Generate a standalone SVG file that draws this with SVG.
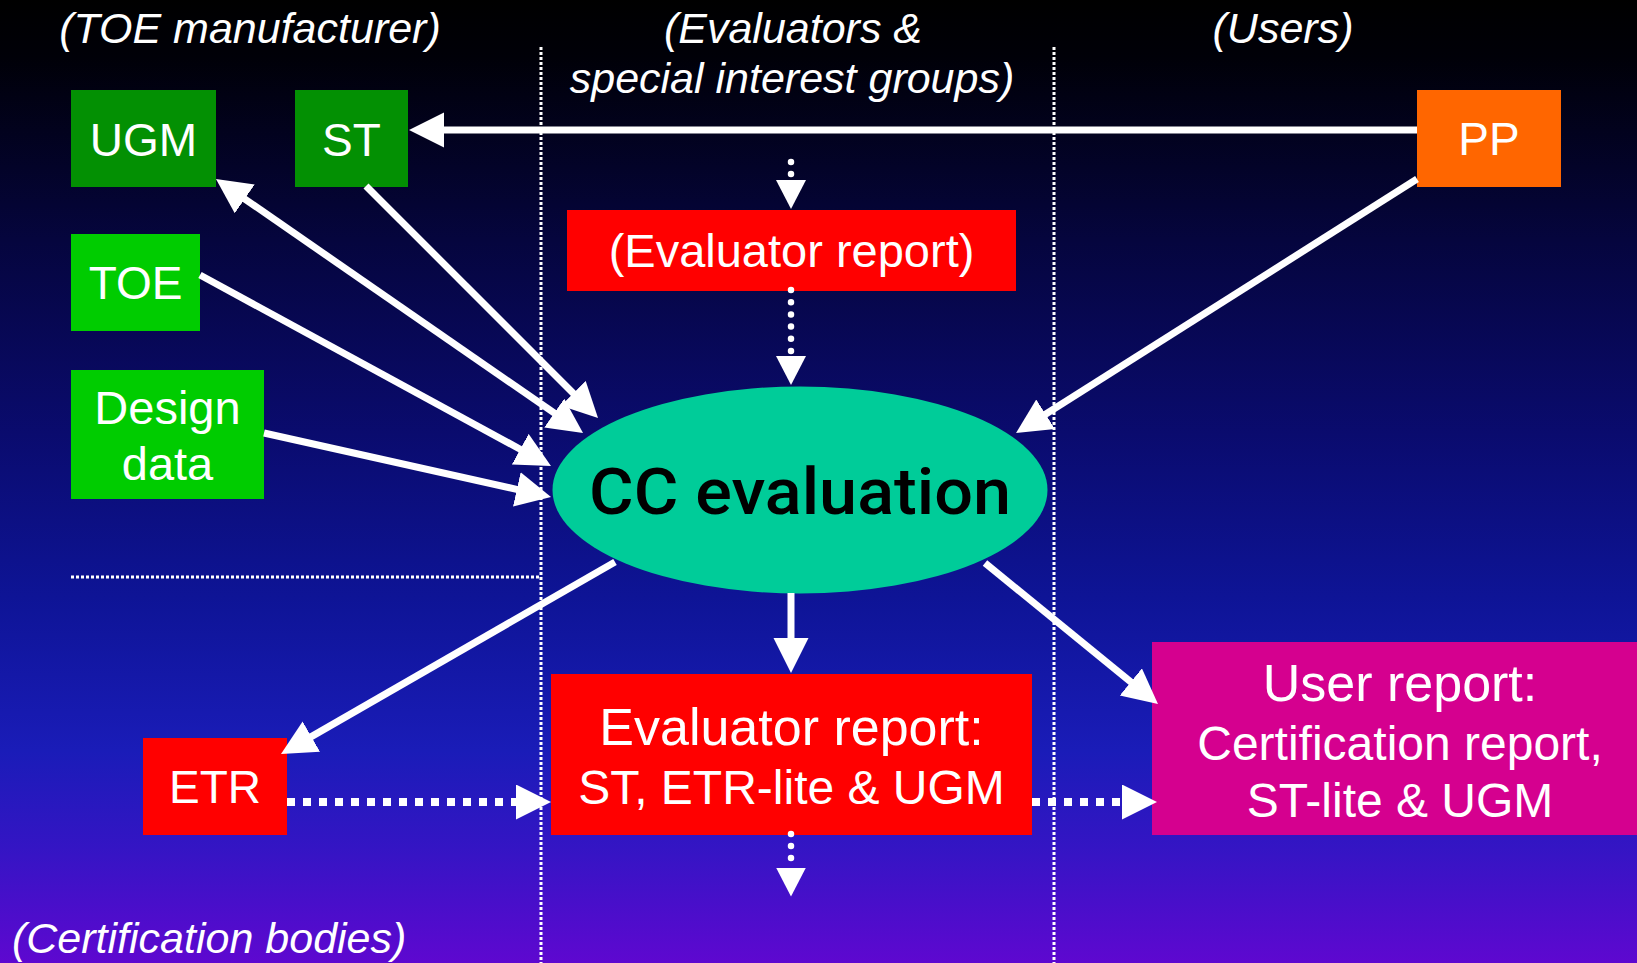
<svg xmlns="http://www.w3.org/2000/svg" width="1637" height="963" viewBox="0 0 1637 963">
  <defs>
    <linearGradient id="bg" x1="0" y1="0" x2="0" y2="1">
      <stop offset="0" stop-color="#000000"/>
      <stop offset="0.06" stop-color="#000008"/>
      <stop offset="0.25" stop-color="#05053e"/>
      <stop offset="0.45" stop-color="#0a0b6e"/>
      <stop offset="0.62" stop-color="#0e1496"/>
      <stop offset="0.78" stop-color="#1a1cb8"/>
      <stop offset="0.88" stop-color="#3415c4"/>
      <stop offset="1" stop-color="#5e08d0"/>
    </linearGradient>
    <marker id="ah" markerUnits="userSpaceOnUse" markerWidth="40" markerHeight="40" refX="2" refY="17.5" orient="auto-start-reverse">
      <path d="M0,0 L35,17.5 L0,35 Z" fill="#ffffff"/>
    </marker>
    <marker id="ahs" markerUnits="userSpaceOnUse" markerWidth="34" markerHeight="34" refX="1" refY="15" orient="auto">
      <path d="M0,0 L29,15 L0,30 Z" fill="#ffffff"/>
    </marker>
  </defs>
  <style>
    .lbl { font-family: "Liberation Sans", Arial, sans-serif; fill: #ffffff; text-anchor: middle; }
    .hdr { font-family: "Liberation Sans", Arial, sans-serif; fill: #ffffff; font-style: italic; font-size: 43px; }
    .sep { stroke: #ffffff; stroke-width: 3; stroke-dasharray: 3 2; fill: none; }
    .arr { stroke: #ffffff; stroke-width: 7; fill: none; marker-end: url(#ah); }
    .sq { stroke: #ffffff; stroke-width: 8; stroke-dasharray: 8 8; fill: none; marker-end: url(#ah); }
    .rd { stroke: #ffffff; stroke-width: 6.5; stroke-linecap: round; fill: none; marker-end: url(#ahs); }
    .dkg { fill: #039003; }
    .ltg { fill: #00cc00; }
    .red { fill: #ff0000; }
  </style>

  <rect x="0" y="0" width="1637" height="963" fill="url(#bg)"/>

  <g id="headers">
    <text class="hdr" x="250" y="43" text-anchor="middle">(TOE manufacturer)</text>
    <text class="hdr" x="793" y="43" text-anchor="middle">(Evaluators &amp;</text>
    <text class="hdr" x="792" y="93" text-anchor="middle">special interest groups)</text>
    <text class="hdr" x="1283" y="43" text-anchor="middle">(Users)</text>
    <text class="hdr" x="12" y="953">(Certification bodies)</text>
  </g>

  <g id="separators">
    <line class="sep" x1="541" y1="47" x2="541" y2="963"/>
    <line class="sep" x1="1054" y1="47" x2="1054" y2="963"/>
    <line class="sep" x1="71" y1="577" x2="539" y2="577"/>
  </g>

  <g id="node-ugm">
    <rect class="dkg" x="71" y="90" width="145" height="97"/>
    <text class="lbl" x="143.5" y="156" font-size="46">UGM</text>
  </g>
  <g id="node-st">
    <rect class="dkg" x="295" y="90" width="113" height="97"/>
    <text class="lbl" x="351.5" y="156" font-size="46">ST</text>
  </g>
  <g id="node-toe">
    <rect class="ltg" x="71" y="234" width="129" height="97"/>
    <text class="lbl" x="135.5" y="299" font-size="46">TOE</text>
  </g>
  <g id="node-design">
    <rect class="ltg" x="71" y="370" width="193" height="129"/>
    <text class="lbl" x="167.5" y="424" font-size="47">Design</text>
    <text class="lbl" x="167.5" y="480" font-size="47">data</text>
  </g>
  <g id="node-pp">
    <rect x="1417" y="90" width="144" height="97" fill="#ff6600"/>
    <text class="lbl" x="1489" y="155" font-size="46">PP</text>
  </g>
  <g id="node-evalreport-top">
    <rect class="red" x="567" y="210" width="449" height="81"/>
    <text class="lbl" x="791.5" y="267" font-size="47">(Evaluator report)</text>
  </g>
  <g id="node-cc">
    <ellipse cx="800" cy="490" rx="247.5" ry="103.5" fill="#00cc99"/>
    <text x="800" y="514" font-family="Roboto, 'Liberation Sans', sans-serif" font-weight="500" font-size="64" fill="#000000" text-anchor="middle" textLength="422" lengthAdjust="spacingAndGlyphs">CC evaluation</text>
  </g>
  <g id="node-etr">
    <rect class="red" x="143" y="738" width="144" height="97"/>
    <text class="lbl" x="215" y="803" font-size="46">ETR</text>
  </g>
  <g id="node-evalreport">
    <rect class="red" x="551" y="674" width="481" height="161"/>
    <text class="lbl" x="791.5" y="745" font-size="52">Evaluator report:</text>
    <text class="lbl" x="791.5" y="804" font-size="48">ST, ETR-lite &amp; UGM</text>
  </g>
  <g id="node-userreport">
    <rect x="1152" y="642" width="485" height="193" fill="#d5008f"/>
    <text class="lbl" x="1400" y="701" font-size="52">User report:</text>
    <text class="lbl" x="1400" y="760" font-size="48">Certification report,</text>
    <text class="lbl" x="1400" y="817" font-size="48">ST-lite &amp; UGM</text>
  </g>

  <g id="connectors">
    <line class="arr" x1="1417" y1="130" x2="442" y2="130"/>
    <line class="arr" x1="366" y1="186" x2="574.7" y2="394.7"/>
    <line class="arr" x1="243.1" y1="197.8" x2="555.9" y2="414.2" marker-start="url(#ah)"/>
    <line class="arr" x1="200" y1="275" x2="522" y2="450.2"/>
    <line class="arr" x1="264" y1="433" x2="518.8" y2="489.8"/>
    <line class="arr" x1="1417" y1="179" x2="1043.9" y2="415.3"/>
    <line class="arr" x1="615" y1="562" x2="309.6" y2="737.6"/>
    <line class="arr" x1="791" y1="593" x2="791" y2="640"/>
    <line class="arr" x1="985" y1="563" x2="1132.4" y2="683.2"/>
    <line class="sq" x1="287" y1="802" x2="518" y2="802"/>
    <line class="sq" x1="1032" y1="802" x2="1124" y2="802"/>
    <line class="rd" stroke-dasharray="0 12" x1="791" y1="162" x2="791" y2="181"/>
    <line class="rd" stroke-dasharray="0 12.2" x1="791" y1="290" x2="791" y2="357"/>
    <line class="rd" stroke-dasharray="0 12" x1="791" y1="834" x2="791" y2="868.5"/>
  </g>
</svg>
